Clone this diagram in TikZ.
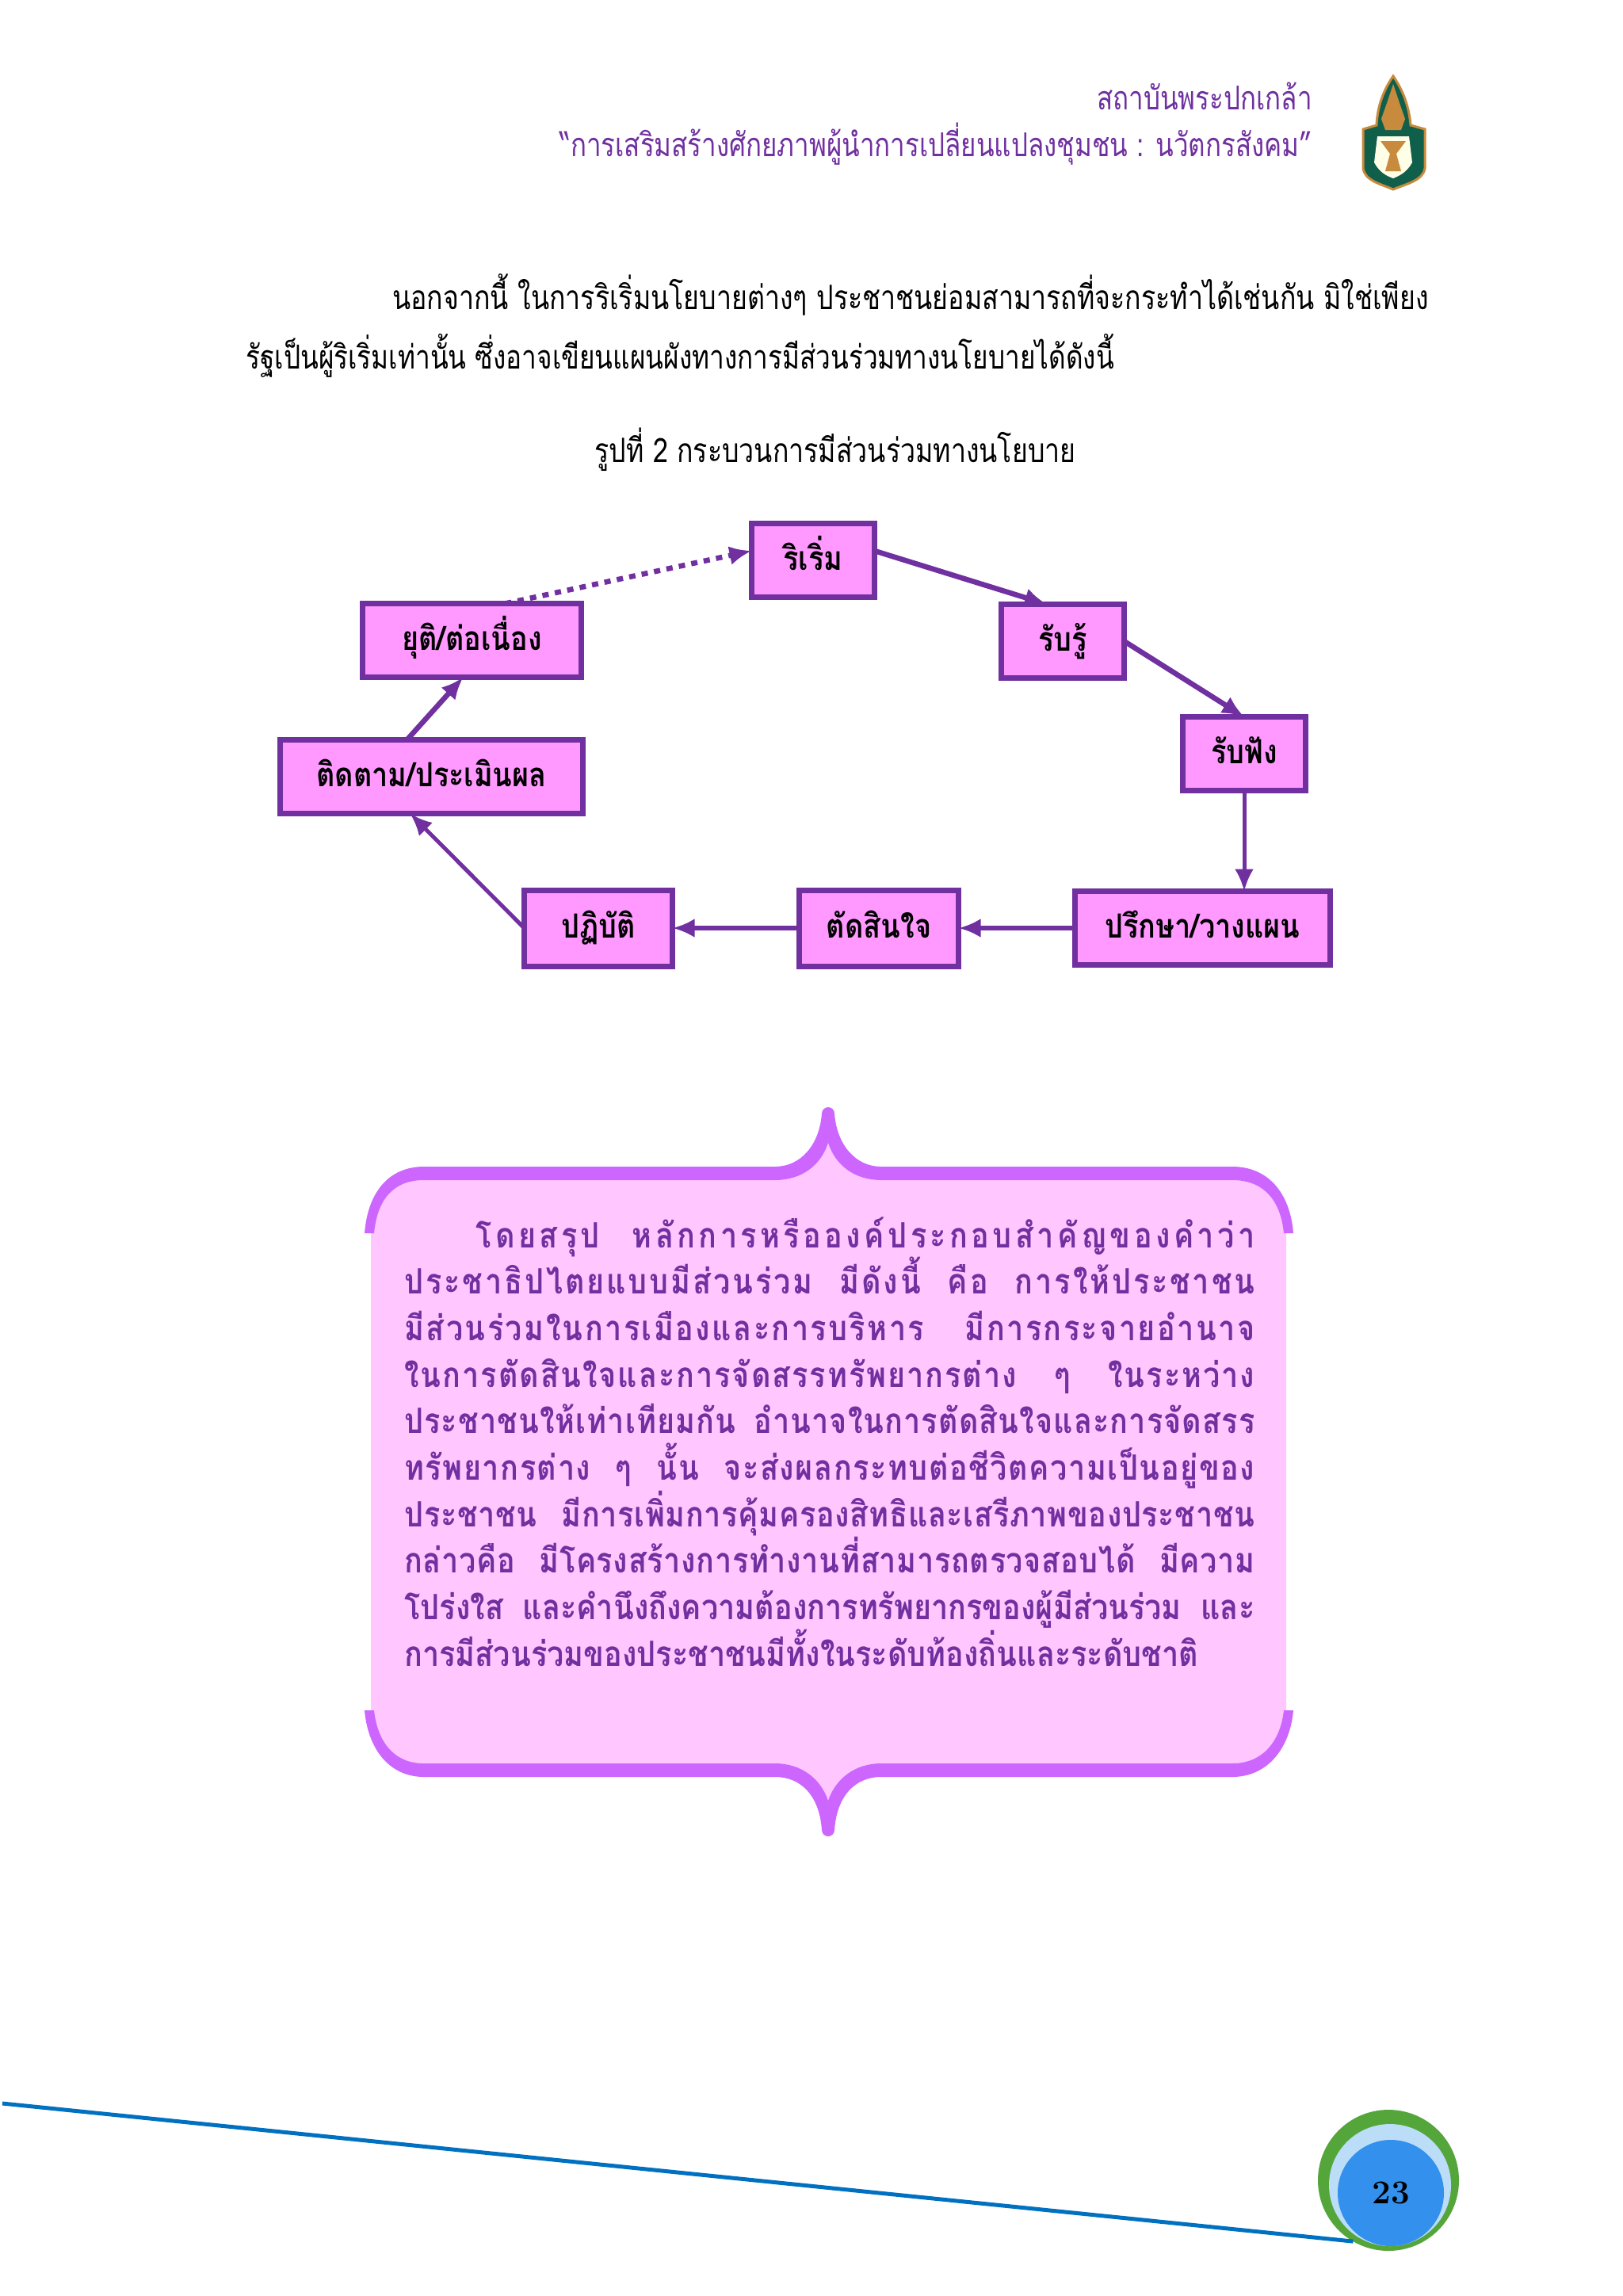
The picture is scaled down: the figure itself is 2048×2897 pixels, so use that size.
\documentclass[tikz,border=0pt]{standalone}
\usepackage{fontspec}
\usepackage{xcolor}
\newfontfamily\thaifont[Script=Thai,FakeStretch=0.8]{Loma}
\newfontfamily\thaiheavy[Script=Thai,FakeStretch=0.86]{Loma}
\definecolor{deeppurple}{HTML}{7030A0}
\definecolor{boxpink}{HTML}{FF99FF}
\definecolor{panelpink}{HTML}{FFC6FF}
\definecolor{panelband}{HTML}{CC66FF}
\definecolor{crestgreen}{HTML}{0F5F4A}
\definecolor{crestgold}{HTML}{C88A3C}
\definecolor{ringgreen}{HTML}{55A63A}
\definecolor{halotint}{HTML}{BBDDF8}
\definecolor{numberblue}{HTML}{3390EC}
\definecolor{footblue}{HTML}{0070C0}
\newcommand{\spaced}[2]{{\addfontfeature{LetterSpace=#1}#2}}
\usetikzlibrary{shapes,arrows,positioning,calc,arrows.meta}

\begin{document}
\begin{tikzpicture}[
    x=0.5pt,y=-0.5pt,
    stagebox/.style={rectangle,draw=deeppurple,fill=boxpink,line width=3.5pt,outer sep=0pt,minimum width=77.5pt,minimum height=46.5pt,align=center,text height=18pt,text depth=6pt,font=\thaiheavy\bfseries\fontsize{21}{24}\selectfont},
    arrow/.style={-{Latex[length=14pt,width=12pt]},draw=deeppurple,line width=3.3pt},
    pagetext/.style={inner sep=0pt,font=\thaifont\fontsize{21.2}{24}\selectfont},
    headtext/.style={inner sep=0pt,font=\thaifont\fontsize{20.7}{24}\selectfont,text=deeppurple,anchor=east}
    ]

    \useasboundingbox (0,0) rectangle (2048,2897);

    % heading and crest
    \node[headtext] (institute) at (1656,121) {สถาบันพระปกเกล้า};
    \node[headtext] (course) at (1656,182) {“การเสริมสร้างศักยภาพผู้นำการเปลี่ยนแปลงชุมชน : นวัตกรสังคม”};
    \fill[fill=crestgreen,draw=crestgold,line width=1.5pt] (1758,96) .. controls (1745,115) and (1738,135) .. (1737,158) -- (1720,163) -- (1720,212) .. controls (1722,228) and (1742,232) .. (1758,239) .. controls (1774,232) and (1796,228) .. (1798,212) -- (1798,163) -- (1780,158) .. controls (1778,135) and (1771,115) .. (1758,96) -- cycle;
    \fill[crestgold] (1758,106) -- (1766,130) -- (1773,150) -- (1768,164) -- (1748,164) -- (1743,150) -- (1750,130) -- cycle;
    \fill[yellow!10] (1738,172) -- (1778,172) -- (1782,205) .. controls (1775,218) and (1765,222) .. (1758,225) .. controls (1750,222) and (1741,218) .. (1734,205) -- cycle;
    \fill[crestgold] (1742,178) -- (1774,178) -- (1762,194) -- (1768,216) -- (1748,216) -- (1754,194) -- cycle;

    % opening paragraph and caption
    \node[pagetext,anchor=west] (para1) at (495,372) {นอกจากนี้ ในการริเริ่มนโยบายต่างๆ ประชาชนย่อมสามารถที่จะกระทำได้เช่นกัน มิใช่เพียง};
    \node[pagetext,anchor=west,font=\thaifont\fontsize{20.85}{24}\selectfont] (para2) at (310,449) {รัฐเป็นผู้ริเริ่มเท่านั้น ซึ่งอาจเขียนแผนผังทางการมีส่วนร่วมทางนโยบายได้ดังนี้};
    \node[pagetext] (caption) at (1054,567) {รูปที่ 2 กระบวนการมีส่วนร่วมทางนโยบาย};

    % process cycle
    \node[stagebox] (init) at (1026,707) {ริเริ่ม};
    \node[stagebox,below right=4.5pt and 80pt of init] (perceive) {รับรู้};
    \node[stagebox,below right=24.5pt and 37pt of perceive] (listen) {รับฟัง};
    \node[stagebox,minimum width=161pt,below=63.5pt of listen,xshift=-26.25pt] (consult) {ปรึกษา/วางแผน};
    \node[stagebox,minimum width=100.5pt,minimum height=48pt,left=73.5pt of consult] (decide) {ตัดสินใจ};
    \node[stagebox,minimum width=93.5pt,minimum height=48pt,left=80pt of decide] (act) {ปฏิบัติ};
    \node[stagebox,minimum width=138pt,below left=4pt and 107.5pt of init] (stop) {ยุติ/ต่อเนื่อง};
    \node[stagebox,minimum width=191pt,below=39.5pt of stop,xshift=-25.5pt] (monitor) {ติดตาม/ประเมินผล};

    \draw[arrow] ([yshift=6pt]init.east)--([xshift=-10pt]perceive.north);
    \draw[arrow] (perceive.east)--(listen.north);
    \draw[arrow,line width=2.5pt] (listen.south)--(listen.south|-consult.north);
    \draw[arrow] (consult)--(decide);
    \draw[arrow] (decide)--(act);
    \draw[arrow,line width=2.5pt] (act.west)--([xshift=-13.5pt]monitor.south);
    \draw[arrow] ([xshift=-15.5pt]monitor.north)--([xshift=-5.5pt]stop.south);
    \draw[arrow,dash pattern=on 4pt off 4pt] ([xshift=21pt]stop.north)--([yshift=6pt]init.west);

    % summary panel
    \fill[panelpink] (468,1556) .. controls (472,1515) and (495,1489) .. (535,1489) -- (978,1489) .. controls (1012,1489) and (1036,1470) .. (1045,1442) .. controls (1054,1470) and (1078,1489) .. (1112,1489) -- (1555,1489) .. controls (1595,1489) and (1618,1515) .. (1623,1556) -- (1623,2158) .. controls (1618,2195) and (1595,2225) .. (1555,2225) -- (1112,2225) .. controls (1078,2225) and (1054,2245) .. (1045,2272) .. controls (1036,2245) and (1012,2225) .. (978,2225) -- (535,2225) .. controls (495,2225) and (472,2195) .. (468,2158) -- cycle;
    \fill[panelband] (460,1556) .. controls (464,1505) and (490,1472) .. (535,1472) -- (978,1472) .. controls (1010,1472) and (1034,1445) .. (1037,1405) arc[start angle=180,end angle=360,radius=8] .. controls (1056,1445) and (1080,1472) .. (1112,1472) -- (1555,1472) .. controls (1600,1472) and (1628,1505) .. (1632,1556) -- (1620,1556) .. controls (1616,1515) and (1595,1489) .. (1555,1489) -- (1112,1489) .. controls (1078,1489) and (1054,1470) .. (1045,1442) .. controls (1036,1470) and (1012,1489) .. (978,1489) -- (535,1489) .. controls (495,1489) and (476,1515) .. (472,1556) -- cycle;
    \fill[panelband] (460,2158) .. controls (464,2205) and (490,2242) .. (535,2242) -- (978,2242) .. controls (1010,2242) and (1034,2265) .. (1037,2309) arc[start angle=180,end angle=0,radius=8] .. controls (1056,2265) and (1080,2242) .. (1112,2242) -- (1555,2242) .. controls (1600,2242) and (1628,2205) .. (1632,2158) -- (1620,2158) .. controls (1616,2195) and (1595,2225) .. (1555,2225) -- (1112,2225) .. controls (1078,2225) and (1054,2245) .. (1045,2272) .. controls (1036,2245) and (1012,2225) .. (978,2225) -- (535,2225) .. controls (495,2225) and (476,2195) .. (472,2158) -- cycle;
    \node[inner sep=0pt,anchor=north west,text width=536.5pt,align=justify,text=deeppurple,font=\thaiheavy\bfseries\fontsize{22}{29.35}\selectfont] (summary) at (510,1535) {\hspace*{45pt}\spaced{10}{โดยสรุป หลักการหรือองค์ประกอบสำคัญของคำว่า}\linebreak
    \spaced{6.5}{ประชาธิปไตยแบบมีส่วนร่วม มีดังนี้ คือ การให้ประชาชน}\linebreak
    \spaced{5.5}{มีส่วนร่วมในการเมืองและการบริหาร มีการกระจายอำนาจ}\linebreak
    \spaced{4.5}{ในการตัดสินใจและการจัดสรรทรัพยากรต่าง ๆ ในระหว่าง}\linebreak
    \spaced{2.5}{ประชาชนให้เท่าเทียมกัน อำนาจในการตัดสินใจและการจัดสรร}\linebreak
    \spaced{3.5}{ทรัพยากรต่าง ๆ นั้น จะส่งผลกระทบต่อชีวิตความเป็นอยู่ของ}\linebreak
    \spaced{1.5}{ประชาชน มีการเพิ่มการคุ้มครองสิทธิและเสรีภาพของประชาชน}\linebreak
    \spaced{1.5}{กล่าวคือ มีโครงสร้างการทำงานที่สามารถตรวจสอบได้ มีความ}\linebreak
    โปร่งใส และคำนึงถึงความต้องการทรัพยากรของผู้มีส่วนร่วม และ\linebreak
    การมีส่วนร่วมของประชาชนมีทั้งในระดับท้องถิ่นและระดับชาติ};

    % foot line and page number
    \coordinate (footstart) at (3,2654);
    \node[circle,fill=ringgreen,minimum size=89pt,inner sep=0pt,outer sep=0pt] (pagering) at (1752,2751) {};
    \node[circle,fill=halotint,minimum size=77pt,inner sep=0pt] (pagehalo) at (1754,2757) {};
    \node[circle,fill=numberblue,minimum size=67pt,inner sep=0pt,font=\bfseries\fontsize{21}{24}\selectfont] (pagenum) at (1755,2767) {23};
    \draw[footblue,line width=2.5pt] (footstart)--(pagering.240);

  \end{tikzpicture}
\end{document}
